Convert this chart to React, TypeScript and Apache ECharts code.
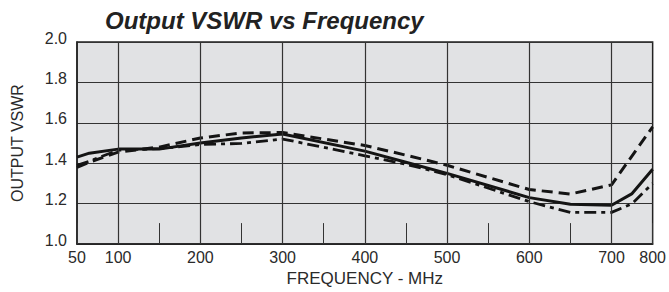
import React, { useEffect, useRef } from "react";
import * as echarts from "echarts";

const frequencies = [50, 65, 100, 150, 200, 250, 300, 400, 450, 500, 600, 650, 700, 750, 800];
// Solid curve
const solidVswr = [1.43, 1.45, 1.47, 1.47, 1.5, 1.525, 1.545, 1.46, 1.405, 1.35, 1.23, 1.197, 1.192, 1.25, 1.37];
// Dashed curve
const dashedVswr = [1.38, 1.405, 1.455, 1.48, 1.525, 1.55, 1.552, 1.488, 1.44, 1.39, 1.27, 1.248, 1.293, 1.437, 1.58];
// Dash-dot curve
const dashDotVswr = [1.39, 1.41, 1.465, 1.472, 1.493, 1.498, 1.52, 1.437, 1.395, 1.344, 1.21, 1.157, 1.157, 1.2, 1.3];

// Axis tick labels
const xTickLabels = [50, 100, 200, 300, 400, 500, 600, 700, 800];
const gridFrequencies = [100, 200, 300, 400, 500, 600, 700];
const yTicks = [1.0, 1.2, 1.4, 1.6, 1.8, 2.0];

// Piecewise frequency scale of the original chart (50-100 and 700-800 are half-width steps)
function toAxis(f: number): number {
  if (f <= 100) return ((f - 50) / 50) * 0.5;
  if (f <= 700) return 0.5 + (f - 100) / 100;
  return 6.5 + ((f - 700) / 100) * 0.5;
}
function fromAxis(u: number): number {
  if (u <= 0.5) return 50 + (u / 0.5) * 50;
  if (u <= 6.5) return 100 + (u - 0.5) * 100;
  return 700 + ((u - 6.5) / 0.5) * 100;
}

const FONT = "Liberation Sans, Arial, Helvetica, sans-serif";

export default function App() {
  const ref = useRef<HTMLDivElement>(null);

  useEffect(() => {
    if (!ref.current) return;
    const chart = echarts.init(ref.current, undefined, { renderer: "svg" });
    const toPairs = (vals: number[]) => frequencies.map((f, i) => [toAxis(f), vals[i]]);
    const lineColor = "#141414";

    chart.setOption({
      animation: false,
      backgroundColor: "#ffffff",
      title: {
        text: "Output VSWR vs Frequency",
        left: 100,
        top: 3,
        textStyle: {
          fontFamily: FONT,
          fontSize: 24,
          fontWeight: "bold",
          fontStyle: "italic",
          color: "#222",
        },
      },
      grid: {
        left: 77,
        right: 10,
        top: 42,
        bottom: 42,
        show: true,
        backgroundColor: "#e1e2e4",
        borderColor: "#222",
        borderWidth: 1.5,
      },
      xAxis: {
        type: "value",
        min: 0,
        max: 7,
        interval: 0.5,
        name: "FREQUENCY - MHz",
        nameLocation: "middle",
        nameGap: 23,
        nameTextStyle: { fontFamily: FONT, fontSize: 17, color: "#2a2a2a" },
        axisLine: { show: true, lineStyle: { color: "#222", width: 1.5 } },
        axisTick: { show: true, inside: true, length: 21, lineStyle: { color: "#333", width: 1 } },
        splitLine: { show: false },
        axisLabel: {
          fontFamily: FONT,
          fontSize: 16,
          color: "#2a2a2a",
          margin: 5,
          showMinLabel: true,
          showMaxLabel: true,
          formatter: (u: number) => {
            const f = Math.round(fromAxis(u));
            return xTickLabels.indexOf(f) >= 0 ? String(f) : "";
          },
        },
      },
      yAxis: {
        type: "value",
        min: yTicks[0],
        max: yTicks[yTicks.length - 1],
        interval: 0.2,
        name: "OUTPUT VSWR",
        nameLocation: "middle",
        nameRotate: 90,
        nameGap: 52,
        nameTextStyle: { fontFamily: FONT, fontSize: 16, color: "#2a2a2a" },
        axisLine: { show: true, lineStyle: { color: "#222", width: 1.5 } },
        axisTick: { show: false },
        splitLine: { show: true, lineStyle: { color: "#333", width: 1.2 } },
        axisLabel: {
          fontFamily: FONT,
          fontSize: 16,
          color: "#2a2a2a",
          margin: 10,
          verticalAlign: "bottom",
          lineHeight: 8,
          formatter: (v: number) => v.toFixed(1),
        },
      },
      series: [
        {
          type: "line",
          data: [],
          z: 1,
          silent: true,
          markLine: {
            silent: true,
            symbol: ["none", "none"],
            label: { show: false },
            lineStyle: { color: "#333", width: 1.2, type: "solid" },
            data: gridFrequencies.map((f) => ({ xAxis: toAxis(f) })),
          },
        },
        {
          type: "line",
          data: toPairs(dashedVswr),
          z: 3,
          symbol: "none",
          lineStyle: { color: lineColor, width: 3, type: [11, 6] },
        },
        {
          type: "line",
          data: toPairs(dashDotVswr),
          z: 3,
          symbol: "none",
          lineStyle: { color: lineColor, width: 2.8, type: [12, 5, 4, 5] },
        },
        {
          type: "line",
          data: toPairs(solidVswr),
          z: 4,
          symbol: "none",
          lineStyle: { color: lineColor, width: 3, type: "solid" },
        },
      ],
    });

    return () => chart.dispose();
  }, []);

  return <div ref={ref} style={{ width: 669, height: 292, position: "absolute", left: 0, top: 0 }} />;
}
